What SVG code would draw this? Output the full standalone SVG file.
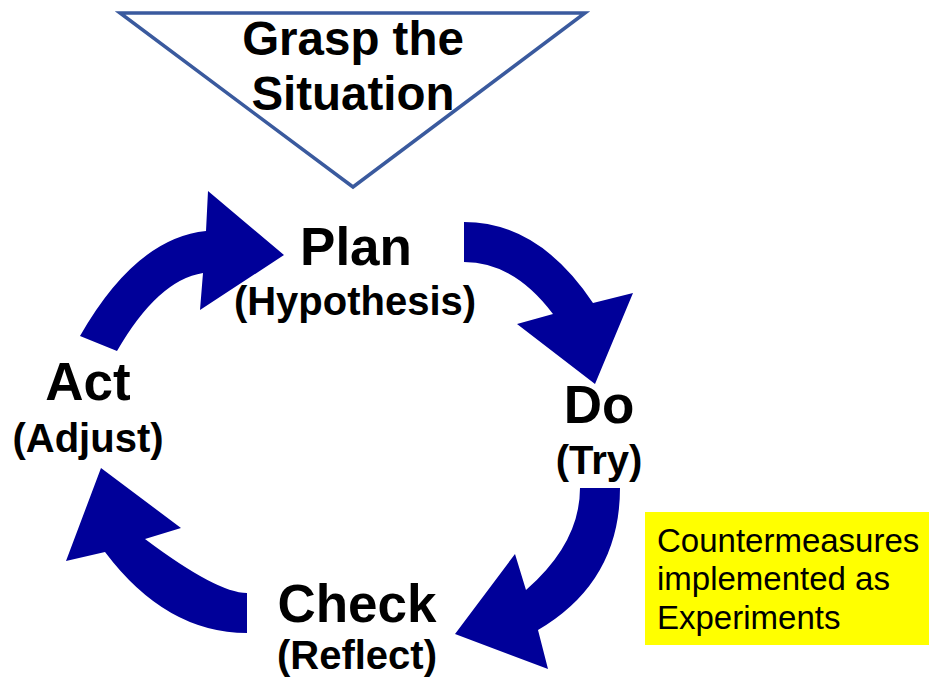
<svg xmlns="http://www.w3.org/2000/svg" width="929" height="681" viewBox="0 0 929 681">
  <style>
    .arrow { fill: #000099; stroke: none; }
    .label { font-family: "Liberation Sans", Arial, sans-serif; font-weight: bold; fill: #000; text-anchor: middle; }
    .main { font-size: 53px; }
    .sub { font-size: 40px; }
    .note { font-family: "Liberation Sans", Arial, sans-serif; font-size: 33px; fill: #000; }
  </style>
  <rect x="0" y="0" width="929" height="681" fill="#ffffff"/>

  <!-- Inverted triangle heading the cycle -->
  <g id="grasp">
    <polygon points="120,13 585,13 353,187" fill="#ffffff" stroke="#3A5A9E" stroke-width="3.5" stroke-linejoin="miter"/>
    <text class="label" x="353" y="55" font-size="47.5">Grasp the</text>
    <text class="label" x="353" y="110" font-size="47.5">Situation</text>
  </g>

  <!-- Curved block arrows forming the PDCA loop -->
  <g id="connectors">
    <path class="arrow" d="M80,336 Q136,238 206,231 L208,191 L284,255 L200,310 L203,273 Q158,280 117,351 Z"/>
    <path class="arrow" d="M464,222 Q539,222 593,303 L633,293 L595,384 L517,324 L553,314 Q514,262 464,262 Z"/>
    <path class="arrow" d="M580,488 L620,488 Q620,582 538,630 L548,669 L455,634 L515,554 L526,590 Q580,543 580,488 Z"/>
    <path class="arrow" d="M247,593 L247,633 Q166,633 105,552 L66,561 L101,468 L181,528 L145,539 Q217,593 247,593 Z"/>
  </g>

  <g id="plan">
    <text class="label main" x="356" y="265">Plan</text>
    <text class="label sub" x="355" y="315">(Hypothesis)</text>
  </g>

  <g id="do">
    <text class="label main" x="599" y="423">Do</text>
    <text class="label sub" x="599" y="474">(Try)</text>
  </g>

  <g id="check">
    <text class="label main" x="357" y="622">Check</text>
    <text class="label sub" x="357" y="669">(Reflect)</text>
  </g>

  <g id="act">
    <text class="label main" x="88" y="400">Act</text>
    <text class="label sub" x="88" y="452">(Adjust)</text>
  </g>

  <!-- Side note -->
  <g id="note">
    <rect x="645" y="512" width="284" height="133" fill="#FFFF00"/>
    <text class="note" x="657" y="552">Countermeasures</text>
    <text class="note" x="657" y="590">implemented as</text>
    <text class="note" x="657" y="629">Experiments</text>
  </g>
</svg>
